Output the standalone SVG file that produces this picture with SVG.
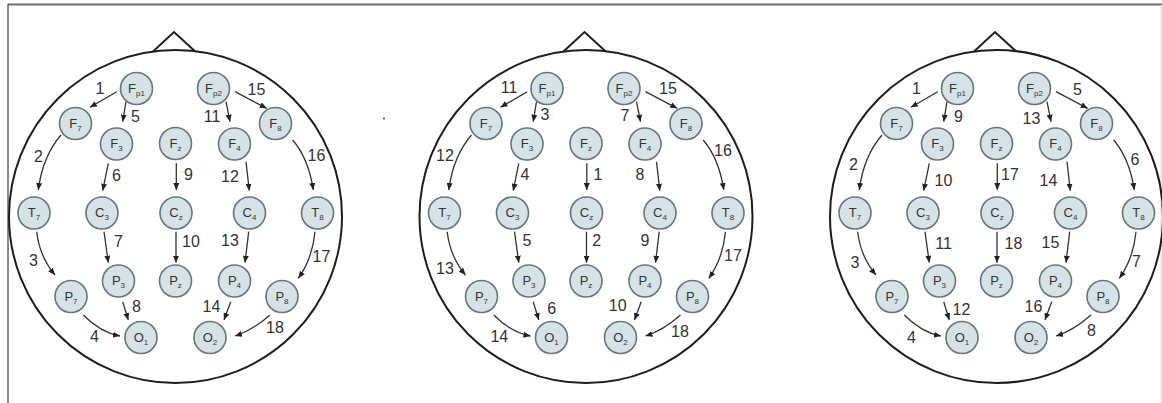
<svg xmlns="http://www.w3.org/2000/svg" width="1162" height="403" viewBox="0 0 1162 403">
<style>
.frame{stroke:#6e6e6e;fill:none}
.outline{fill:none;stroke:#1e1e1e;stroke-width:2}
.nd circle{fill:#d6e3e6;stroke:#65777a;stroke-width:1.6}
.nd text{font-family:"Liberation Sans",Arial,sans-serif;font-size:13px;fill:#333;text-anchor:middle}
.nd tspan{font-size:8px}
.w path{fill:none;stroke:#333;stroke-width:1.3;marker-end:url(#ah)}
.lb{font-family:"Liberation Sans",Arial,sans-serif;font-size:16px;fill:#333;text-anchor:middle;dominant-baseline:central}
</style>
<defs>
<marker id="ah" markerUnits="userSpaceOnUse" markerWidth="8" markerHeight="6" refX="7" refY="3" orient="auto">
<path d="M0,0 L7,3 L0,6 z" fill="#222"/>
</marker>
<g id="wires" class="w">
<path d="M-58.8,-124.8 L-85.5,-109.2"/>
<path d="M-49.5,-114.8 L-52.8,-94.8"/>
<path d="M50.5,-114.8 L54.5,-94.8"/>
<path d="M59.5,-124.8 L91.2,-108.2"/>
<path d="M-114.5,-81.5 Q-133,-60 -137.2,-26.5"/>
<path d="M-67.2,-53.2 L-72.8,-25.8"/>
<path d="M0.8,-53.2 L0.8,-26.5"/>
<path d="M70.5,-54.8 L73.8,-25.8"/>
<path d="M117.2,-76.5 Q133,-58 137.8,-26.5"/>
<path d="M-138.8,15.2 Q-136,40 -120.5,58.5"/>
<path d="M-71.5,15.2 L-67.2,46.2"/>
<path d="M0.5,15.2 L0.5,46.2"/>
<path d="M73.2,15.2 L69.5,46.2"/>
<path d="M139.5,15.2 Q137,42 122.8,61.8"/>
<path d="M-52.8,85.2 L-47.2,103.5"/>
<path d="M55.2,85.2 L48.5,103.5"/>
<path d="M-92.2,98.5 Q-75,116 -55.5,119.5"/>
<path d="M94.5,98.5 Q77,114 59.5,119.5"/>
</g>
</defs>
<rect width="1162" height="403" fill="#fff"/>
<line class="frame" x1="8" y1="4.5" x2="1162" y2="4.5" stroke-width="2.2"/>
<line class="frame" x1="8" y1="4" x2="8" y2="403" stroke-width="1.6"/>
<line x1="1161" y1="5" x2="1161" y2="403" stroke="#e2e2e2" stroke-width="1.2"/>
<circle cx="384" cy="118.5" r="1.1" fill="#555"/>

<!-- HEAD 1 -->
<g id="head1" transform="translate(175.5,216.5)">
<circle class="outline" r="166.5"/>
<polyline class="outline" points="-22.5,-165 -1.5,-184.5 19.5,-165.2"/>
<g id="h1-connectors">
<use href="#wires"/>
<text class="lb" x="-75.5" y="-128.5">1</text>
<text class="lb" x="-40" y="-100">5</text>
<text class="lb" x="36.5" y="-100">11</text>
<text class="lb" x="81" y="-127.5">15</text>
<text class="lb" x="-137" y="-60">2</text>
<text class="lb" x="-59" y="-41">6</text>
<text class="lb" x="13" y="-42.5">9</text>
<text class="lb" x="54.5" y="-40">12</text>
<text class="lb" x="141" y="-61.5">16</text>
<text class="lb" x="-57" y="25">7</text>
<text class="lb" x="15.5" y="25">10</text>
<text class="lb" x="54.5" y="23.5">13</text>
<text class="lb" x="-142" y="43.5">3</text>
<text class="lb" x="146" y="39.5">17</text>
<text class="lb" x="-39" y="90">8</text>
<text class="lb" x="36" y="90">14</text>
<text class="lb" x="-81" y="119.5">4</text>
<text class="lb" x="99.5" y="111">18</text>
</g>
<g id="h1-Fp1" class="nd"><circle cx="-39" cy="-128" r="16"/><text x="-39" y="-124">F<tspan dy="3">p1</tspan></text></g>
<g id="h1-Fp2" class="nd"><circle cx="38" cy="-128" r="16"/><text x="38" y="-124">F<tspan dy="3">p2</tspan></text></g>
<g id="h1-F7" class="nd"><circle cx="-100" cy="-93" r="16"/><text x="-100" y="-89">F<tspan dy="3">7</tspan></text></g>
<g id="h1-F8" class="nd"><circle cx="100" cy="-93" r="16"/><text x="100" y="-89">F<tspan dy="3">8</tspan></text></g>
<g id="h1-F3" class="nd"><circle cx="-59" cy="-72.5" r="16"/><text x="-59" y="-68.5">F<tspan dy="3">3</tspan></text></g>
<g id="h1-Fz" class="nd"><circle cx="0" cy="-73" r="16"/><text x="0" y="-69">F<tspan dy="3">z</tspan></text></g>
<g id="h1-F4" class="nd"><circle cx="59" cy="-72.5" r="16"/><text x="59" y="-68.5">F<tspan dy="3">4</tspan></text></g>
<g id="h1-T7" class="nd"><circle cx="-141.5" cy="-3.5" r="16"/><text x="-141.5" y="0.5">T<tspan dy="3">7</tspan></text></g>
<g id="h1-C3" class="nd"><circle cx="-73.5" cy="-3.5" r="16"/><text x="-73.5" y="0.5">C<tspan dy="3">3</tspan></text></g>
<g id="h1-Cz" class="nd"><circle cx="0.5" cy="-3.5" r="16"/><text x="0.5" y="0.5">C<tspan dy="3">z</tspan></text></g>
<g id="h1-C4" class="nd"><circle cx="74" cy="-3.5" r="16"/><text x="74" y="0.5">C<tspan dy="3">4</tspan></text></g>
<g id="h1-T8" class="nd"><circle cx="142" cy="-3.5" r="16"/><text x="142" y="0.5">T<tspan dy="3">8</tspan></text></g>
<g id="h1-P3" class="nd"><circle cx="-57" cy="64.5" r="16"/><text x="-57" y="68.5">P<tspan dy="3">3</tspan></text></g>
<g id="h1-Pz" class="nd"><circle cx="0" cy="64.5" r="16"/><text x="0" y="68.5">P<tspan dy="3">z</tspan></text></g>
<g id="h1-P4" class="nd"><circle cx="59" cy="64.5" r="16"/><text x="59" y="68.5">P<tspan dy="3">4</tspan></text></g>
<g id="h1-P7" class="nd"><circle cx="-104.5" cy="80" r="16"/><text x="-104.5" y="84">P<tspan dy="3">7</tspan></text></g>
<g id="h1-P8" class="nd"><circle cx="106.5" cy="80" r="16"/><text x="106.5" y="84">P<tspan dy="3">8</tspan></text></g>
<g id="h1-O1" class="nd"><circle cx="-34.5" cy="121" r="16"/><text x="-34.5" y="125">O<tspan dy="3">1</tspan></text></g>
<g id="h1-O2" class="nd"><circle cx="34.5" cy="121" r="16"/><text x="34.5" y="125">O<tspan dy="3">2</tspan></text></g>
</g>

<!-- HEAD 2 -->
<g id="head2" transform="translate(586,216.5)">
<circle class="outline" r="166.5"/>
<polyline class="outline" points="-22.5,-165 -1.5,-184.5 19.5,-165.2"/>
<g id="h2-connectors">
<use href="#wires"/>
<text class="lb" x="-77" y="-129">11</text>
<text class="lb" x="-41" y="-102">3</text>
<text class="lb" x="39" y="-101.5">7</text>
<text class="lb" x="82" y="-128">15</text>
<text class="lb" x="-141" y="-61.5">12</text>
<text class="lb" x="-61" y="-42.5">4</text>
<text class="lb" x="12" y="-42.5">1</text>
<text class="lb" x="54" y="-42.5">8</text>
<text class="lb" x="137" y="-66.5">16</text>
<text class="lb" x="-59" y="23.5">5</text>
<text class="lb" x="10.7" y="23.5">2</text>
<text class="lb" x="59" y="23.5">9</text>
<text class="lb" x="-141" y="52">13</text>
<text class="lb" x="147" y="38.5">17</text>
<text class="lb" x="-34.3" y="92">6</text>
<text class="lb" x="31.7" y="88.5">10</text>
<text class="lb" x="-86.7" y="120">14</text>
<text class="lb" x="94" y="115">18</text>
</g>
<g id="h2-Fp1" class="nd"><circle cx="-39" cy="-128" r="16"/><text x="-39" y="-124">F<tspan dy="3">p1</tspan></text></g>
<g id="h2-Fp2" class="nd"><circle cx="38" cy="-128" r="16"/><text x="38" y="-124">F<tspan dy="3">p2</tspan></text></g>
<g id="h2-F7" class="nd"><circle cx="-100" cy="-93" r="16"/><text x="-100" y="-89">F<tspan dy="3">7</tspan></text></g>
<g id="h2-F8" class="nd"><circle cx="100" cy="-93" r="16"/><text x="100" y="-89">F<tspan dy="3">8</tspan></text></g>
<g id="h2-F3" class="nd"><circle cx="-59" cy="-72.5" r="16"/><text x="-59" y="-68.5">F<tspan dy="3">3</tspan></text></g>
<g id="h2-Fz" class="nd"><circle cx="0" cy="-73" r="16"/><text x="0" y="-69">F<tspan dy="3">z</tspan></text></g>
<g id="h2-F4" class="nd"><circle cx="59" cy="-72.5" r="16"/><text x="59" y="-68.5">F<tspan dy="3">4</tspan></text></g>
<g id="h2-T7" class="nd"><circle cx="-141.5" cy="-3.5" r="16"/><text x="-141.5" y="0.5">T<tspan dy="3">7</tspan></text></g>
<g id="h2-C3" class="nd"><circle cx="-73.5" cy="-3.5" r="16"/><text x="-73.5" y="0.5">C<tspan dy="3">3</tspan></text></g>
<g id="h2-Cz" class="nd"><circle cx="0.5" cy="-3.5" r="16"/><text x="0.5" y="0.5">C<tspan dy="3">z</tspan></text></g>
<g id="h2-C4" class="nd"><circle cx="74" cy="-3.5" r="16"/><text x="74" y="0.5">C<tspan dy="3">4</tspan></text></g>
<g id="h2-T8" class="nd"><circle cx="142" cy="-3.5" r="16"/><text x="142" y="0.5">T<tspan dy="3">8</tspan></text></g>
<g id="h2-P3" class="nd"><circle cx="-57" cy="64.5" r="16"/><text x="-57" y="68.5">P<tspan dy="3">3</tspan></text></g>
<g id="h2-Pz" class="nd"><circle cx="0" cy="64.5" r="16"/><text x="0" y="68.5">P<tspan dy="3">z</tspan></text></g>
<g id="h2-P4" class="nd"><circle cx="59" cy="64.5" r="16"/><text x="59" y="68.5">P<tspan dy="3">4</tspan></text></g>
<g id="h2-P7" class="nd"><circle cx="-104.5" cy="80" r="16"/><text x="-104.5" y="84">P<tspan dy="3">7</tspan></text></g>
<g id="h2-P8" class="nd"><circle cx="106.5" cy="80" r="16"/><text x="106.5" y="84">P<tspan dy="3">8</tspan></text></g>
<g id="h2-O1" class="nd"><circle cx="-34.5" cy="121" r="16"/><text x="-34.5" y="125">O<tspan dy="3">1</tspan></text></g>
<g id="h2-O2" class="nd"><circle cx="34.5" cy="121" r="16"/><text x="34.5" y="125">O<tspan dy="3">2</tspan></text></g>
</g>

<!-- HEAD 3 -->
<g id="head3" transform="translate(996.5,216.5)">
<circle class="outline" r="166.5"/>
<polyline class="outline" points="-22.5,-165 -1.5,-184.5 19.5,-165.2"/>
<g id="h3-connectors">
<use href="#wires"/>
<text class="lb" x="-80" y="-128">1</text>
<text class="lb" x="-38" y="-100">9</text>
<text class="lb" x="35" y="-98">13</text>
<text class="lb" x="81" y="-127">5</text>
<text class="lb" x="-143" y="-52.5">2</text>
<text class="lb" x="-53" y="-36.5">10</text>
<text class="lb" x="13.5" y="-42.5">17</text>
<text class="lb" x="52" y="-36.5">14</text>
<text class="lb" x="138.5" y="-57">6</text>
<text class="lb" x="-53" y="27">11</text>
<text class="lb" x="17" y="27">18</text>
<text class="lb" x="54" y="26">15</text>
<text class="lb" x="-141.5" y="46">3</text>
<text class="lb" x="140" y="45">7</text>
<text class="lb" x="-35" y="93">12</text>
<text class="lb" x="37" y="89.5">16</text>
<text class="lb" x="-85" y="121">4</text>
<text class="lb" x="95" y="113.5">8</text>
</g>
<g id="h3-Fp1" class="nd"><circle cx="-39" cy="-128" r="16"/><text x="-39" y="-124">F<tspan dy="3">p1</tspan></text></g>
<g id="h3-Fp2" class="nd"><circle cx="38" cy="-128" r="16"/><text x="38" y="-124">F<tspan dy="3">p2</tspan></text></g>
<g id="h3-F7" class="nd"><circle cx="-100" cy="-93" r="16"/><text x="-100" y="-89">F<tspan dy="3">7</tspan></text></g>
<g id="h3-F8" class="nd"><circle cx="100" cy="-93" r="16"/><text x="100" y="-89">F<tspan dy="3">8</tspan></text></g>
<g id="h3-F3" class="nd"><circle cx="-59" cy="-72.5" r="16"/><text x="-59" y="-68.5">F<tspan dy="3">3</tspan></text></g>
<g id="h3-Fz" class="nd"><circle cx="0" cy="-73" r="16"/><text x="0" y="-69">F<tspan dy="3">z</tspan></text></g>
<g id="h3-F4" class="nd"><circle cx="59" cy="-72.5" r="16"/><text x="59" y="-68.5">F<tspan dy="3">4</tspan></text></g>
<g id="h3-T7" class="nd"><circle cx="-141.5" cy="-3.5" r="16"/><text x="-141.5" y="0.5">T<tspan dy="3">7</tspan></text></g>
<g id="h3-C3" class="nd"><circle cx="-73.5" cy="-3.5" r="16"/><text x="-73.5" y="0.5">C<tspan dy="3">3</tspan></text></g>
<g id="h3-Cz" class="nd"><circle cx="0.5" cy="-3.5" r="16"/><text x="0.5" y="0.5">C<tspan dy="3">z</tspan></text></g>
<g id="h3-C4" class="nd"><circle cx="74" cy="-3.5" r="16"/><text x="74" y="0.5">C<tspan dy="3">4</tspan></text></g>
<g id="h3-T8" class="nd"><circle cx="142" cy="-3.5" r="16"/><text x="142" y="0.5">T<tspan dy="3">8</tspan></text></g>
<g id="h3-P3" class="nd"><circle cx="-57" cy="64.5" r="16"/><text x="-57" y="68.5">P<tspan dy="3">3</tspan></text></g>
<g id="h3-Pz" class="nd"><circle cx="0" cy="64.5" r="16"/><text x="0" y="68.5">P<tspan dy="3">z</tspan></text></g>
<g id="h3-P4" class="nd"><circle cx="59" cy="64.5" r="16"/><text x="59" y="68.5">P<tspan dy="3">4</tspan></text></g>
<g id="h3-P7" class="nd"><circle cx="-104.5" cy="80" r="16"/><text x="-104.5" y="84">P<tspan dy="3">7</tspan></text></g>
<g id="h3-P8" class="nd"><circle cx="106.5" cy="80" r="16"/><text x="106.5" y="84">P<tspan dy="3">8</tspan></text></g>
<g id="h3-O1" class="nd"><circle cx="-34.5" cy="121" r="16"/><text x="-34.5" y="125">O<tspan dy="3">1</tspan></text></g>
<g id="h3-O2" class="nd"><circle cx="34.5" cy="121" r="16"/><text x="34.5" y="125">O<tspan dy="3">2</tspan></text></g>
</g>
</svg>
